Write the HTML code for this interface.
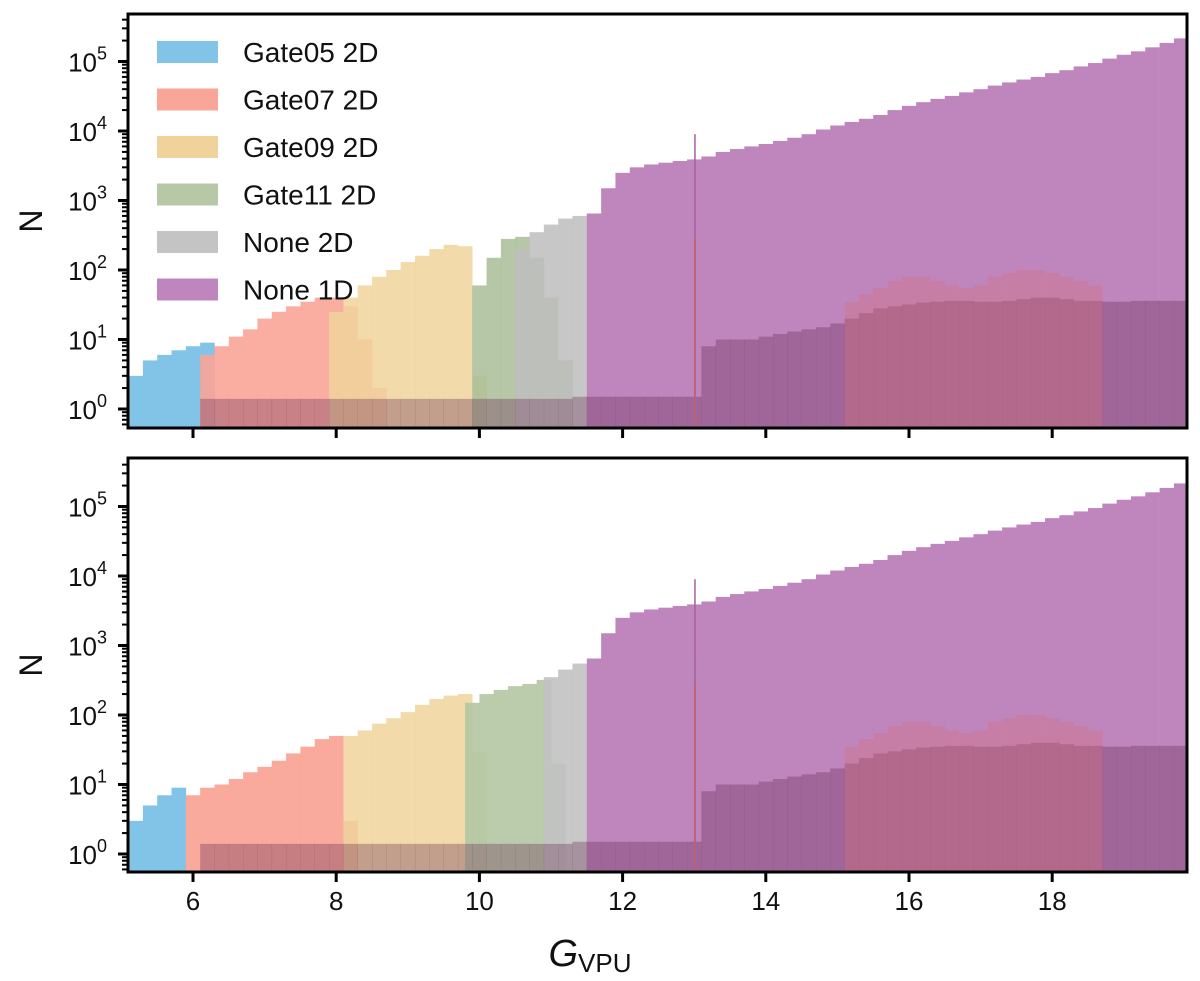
<!DOCTYPE html>
<html><head><meta charset="utf-8"><style>
body{margin:0;background:#fff;}
svg text{font-family:"Liberation Sans",sans-serif;fill:#111;}
</style></head><body>
<svg id="c" width="1200" height="976" viewBox="0 0 1200 976" xmlns="http://www.w3.org/2000/svg"></svg>
<script>
const binW = 0.2;
// top panel series: start G of first bin, counts per 0.2 bin
const topBlueStart = 5.1, topBlue = [3,5,6,7,8,9];
const topRedStart = 6.1, topRed = [6,8,11,14,20,25,30,35,40,40,30,10,2];
const topYellowStart = 7.9, topYellow = [25,40,60,80,100,130,160,200,230,220,3];
const topGreenStart = 9.9, topGreen = [60,150,280,300,150,40,5];
const topGrayStart = 10.5, topGray = [200,350,450,550,600];
// bottom panel
const botBlueStart = 5.1, botBlue = [3,5,7,9];
const botRedStart = 5.9, botRed = [7,9,10,12,15,18,22,28,35,45,50,3];
const botYellowStart = 8.1, botYellow = [50,60,75,90,110,140,170,190,200,30];
const botGreenStart = 9.8, botGreen = [150,200,230,260,280,320,20];
const botGrayStart = 10.9, botGray = [350,450,550];
// None 1D (both panels)
const purpleStart = 11.5;
const purple = [650,1500,2500,3000,3300,3500,3700,3900,4300,5000,5500,6000,6500,7200,8000,9000,10500,12000,13500,15000,17000,20000,23000,26000,29000,32000,36000,40000,45000,50000,55000,60000,68000,75000,85000,95000,110000,125000,140000,160000,185000,215000];
const spikeG = 13.0, spikeTop = 9000, spikeRed = 300;
// low-level overlapping tails
const tailStart = 6.1;
const tail = [1.4,1.4,1.4,1.4,1.4,1.4,1.4,1.4,1.4,1.4,1.4,1.4,1.4,1.4,1.4,1.4,1.4,1.4,1.4,1.4,1.4,1.4,1.4,1.4,1.4,1.4,1.5,1.5,1.5,1.5,1.5,1.5,1.5,1.5,1.5,8,10,10,10,11,12,13,14,15,17,20,24,28,30,32,34,35,36,36,35,35,36,38,40,40,38,36,36,35,35,36,36,36,36];
const humpStart = 15.1;
const hump = [35,45,55,70,80,80,70,60,55,60,80,90,100,100,90,80,70,60];
const xTicks = [6,8,10,12,14,16,18];
const yExps = [0,1,2,3,4,5];

const svg = document.getElementById('c');
const NS = 'http://www.w3.org/2000/svg';
const X0=128, X1=1187;
const xs = g => 193 + 71.6*(g-6);
function mk(tag, attrs, parent){const e=document.createElementNS(NS,tag);for(const k in attrs)e.setAttribute(k,attrs[k]);(parent||svg).appendChild(e);return e;}

function panel(name, top, bottom, y0, series, showLabels){
  const g = mk('g',{});
  
  
  const ys = v => y0 - 69.5*Math.log10(v);
  const clipId = 'clip'+name;
  const cp = mk('clipPath',{id:clipId},g); mk('rect',{x:X0,y:top,width:X1-X0,height:bottom-top},cp);
  const plot = mk('g',{'clip-path':'url(#'+clipId+')'},g);
  series.forEach(s=>{
    const sg = mk('g',{fill:s.color,'fill-opacity':s.op||1},plot);
    
    
    s.vals.forEach((v,i)=>{
      const a = xs(s.start+i*binW), b = xs(s.start+(i+1)*binW);
      const r = mk('rect',{x:a,y:ys(v),width:b-a+0.3,height:bottom-ys(v)},sg);
      
      
    });
  });
  const sp = mk('rect',{x:xs(spikeG),y:ys(spikeTop),width:1.5,height:bottom-ys(spikeTop),fill:'#a65fa3'},plot);
  
  
  const sp2 = mk('rect',{x:xs(spikeG),y:ys(spikeRed),width:1.5,height:bottom-ys(spikeRed),fill:'#c4606a'},plot);
  
  
  const fr = mk('rect',{x:X0,y:top,width:X1-X0,height:bottom-top,fill:'none',stroke:'#000','stroke-width':3},g);
  
  
  for(let e=-1;e<=5;e++){
    for(let m=1;m<10;m++){
      const y = ys(m*Math.pow(10,e));
      if(y<top||y>bottom) continue;
      mk('line',{x1:X0-(m==1?10:6),x2:X0,y1:y,y2:y,stroke:'#000','stroke-width':m==1?3:2},g);
    }
  }
  yExps.forEach(e=>{
    const t = mk('text',{x:X0-21,y:ys(Math.pow(10,e))+10,'font-size':26,'text-anchor':'end'},g);
    
    
    t.textContent='10';
    const s = mk('tspan',{dy:-12,'font-size':18},t); s.textContent=e;
  });
  xTicks.forEach(v=>{
    mk('line',{x1:xs(v),x2:xs(v),y1:bottom,y2:bottom+10,stroke:'#000','stroke-width':3},g);
    if(showLabels){
      const t = mk('text',{x:xs(v),y:bottom+38,'font-size':26,'text-anchor':'middle'},g);
      
      
      t.textContent=v;
    }
  });
  const yl = mk('text',{x:42,y:(top+bottom)/2,'font-size':32,'text-anchor':'middle',transform:`rotate(-90 42 ${(top+bottom)/2})`},g);
  
  
  yl.textContent='N';
}
const tailSeries = [
  {name:'tail-mix',start:tailStart,vals:tail,color:'#6a2d55',op:0.35},
  {name:'hump-red',start:humpStart,vals:hump,color:'#d9706f',op:0.3}
];
panel('top-panel',14,428,409,[
  {name:'gate05-2d',start:topBlueStart,vals:topBlue,color:'#82c4e8'},
  {name:'gate07-2d',start:topRedStart,vals:topRed,color:'#f9a597',op:0.9},
  {name:'gate09-2d',start:topYellowStart,vals:topYellow,color:'#f0d39b',op:0.85},
  {name:'gate11-2d',start:topGreenStart,vals:topGreen,color:'#a8bd96',op:0.85},
  {name:'none-2d',start:topGrayStart,vals:topGray,color:'#bdbdbd',op:0.85},
  {name:'none-1d',start:purpleStart,vals:purple,color:'#bf85bd'},
  ...tailSeries],false);
panel('bottom-panel',458,872,854,[
  {name:'gate05-2d',start:botBlueStart,vals:botBlue,color:'#82c4e8'},
  {name:'gate07-2d',start:botRedStart,vals:botRed,color:'#f9a597',op:0.95},
  {name:'gate09-2d',start:botYellowStart,vals:botYellow,color:'#f0d39b',op:0.85},
  {name:'gate11-2d',start:botGreenStart,vals:botGreen,color:'#b3c6a2',op:0.9},
  {name:'none-2d',start:botGrayStart,vals:botGray,color:'#c2c2c2',op:0.9},
  {name:'none-1d',start:purpleStart,vals:purple,color:'#bf85bd'},
  ...tailSeries],true);

const xl = mk('text',{x:590,y:966,'font-size':38,'font-style':'italic','text-anchor':'middle'});


xl.textContent='G';
const sub = mk('tspan',{'font-size':26,'font-style':'normal',dy:6},xl); sub.textContent='VPU';

const legNames=['Gate05 2D','Gate07 2D','Gate09 2D','Gate11 2D','None 2D','None 1D'];
const legCols=['#82c4e8','#f9a597','#f0d39b','#b6c8a6','#c4c4c4','#bf85bd'];
const lg = mk('g',{});


legNames.forEach((n,i)=>{
  const cy = 52 + i*47.5;
  const e = mk('g',{},lg);
  
  
  mk('rect',{x:157,y:cy-11,width:61,height:22,fill:legCols[i]},e);
  const t = mk('text',{x:243,y:cy+10,'font-size':28},e); t.textContent=n;
});
</script>
</body></html>
